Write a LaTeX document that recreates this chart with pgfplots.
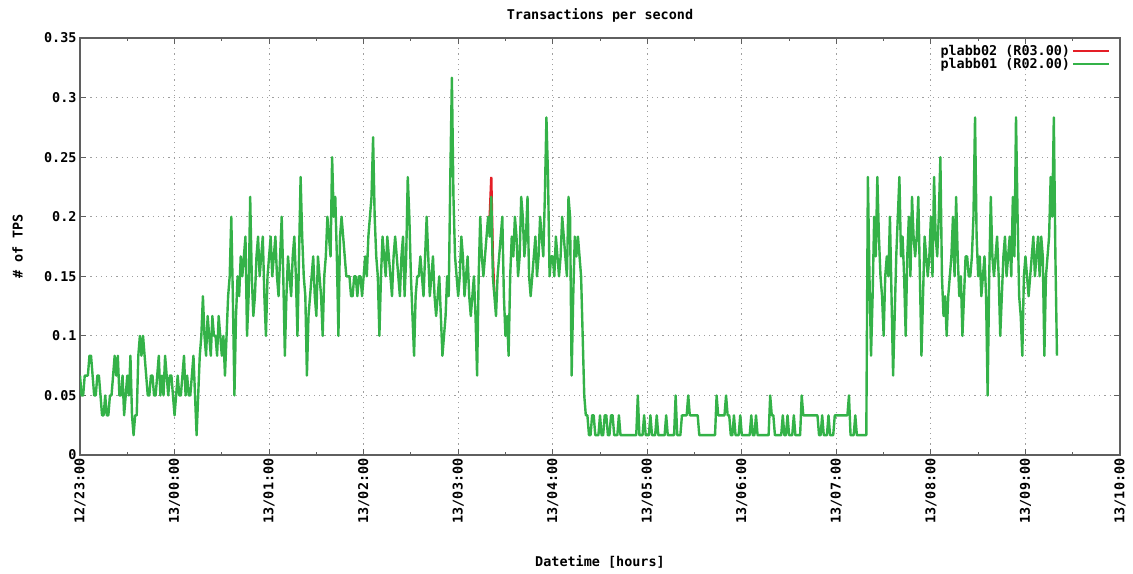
\documentclass[border=0pt]{standalone}
\usepackage{pgfplots}
\pgfplotsset{compat=1.18}
\usepackage{fontspec}
\setmainfont{DejaVu Sans Mono}
\definecolor{gline}{RGB}{52,178,72}
\definecolor{rline}{RGB}{228,30,38}
\definecolor{frame}{RGB}{95,95,95}
\newcommand{\gfont}{\bfseries\fontsize{13.5}{15}\selectfont}
\begin{document}
\begin{tikzpicture}
\begin{axis}[
  scale only axis,
  width=1040bp, height=417bp,
  xmin=0, xmax=660, ymin=0, ymax=21,
  xtick={0,60,...,660},
  xticklabels={12/23:00,13/00:00,13/01:00,13/02:00,13/03:00,13/04:00,13/05:00,13/06:00,13/07:00,13/08:00,13/09:00,13/10:00},
  minor xtick={30,90,...,630},
  ytick={0,3,...,21},
  yticklabels={0,0.05,0.1,0.15,0.2,0.25,0.3,0.35},
  tick align=inside,
  major tick length=6bp, minor tick length=3bp,
  tick style={frame, line width=1bp},
  axis line style={frame, line width=1.3bp},
  grid=major,
  major grid style={gray!75, line width=0.9bp, dash pattern=on 1.2bp off 4bp},
  xticklabel style={rotate=90, anchor=east, font=\gfont},
  yticklabel style={font=\gfont},
  title={Transactions per second},
  title style={font=\gfont, at={(axis description cs:0.5,1.04)}, anchor=center},
  xlabel={Datetime [hours]},
  xlabel style={font=\gfont, at={(axis description cs:0.5,-0.257)}, anchor=center},
  ylabel={\# of TPS},
  ylabel style={font=\gfont, at={(axis description cs:-0.06,0.5)}, anchor=center, rotate=0},
  legend style={at={(axis description cs:0.992,0.99)}, anchor=north east, draw=none, fill=none, font=\gfont, row sep=-3bp, inner sep=1bp},
  legend cell align=right,
  legend plot pos=right,
  legend image code/.code={\draw[#1, line width=2.4bp] (0bp,0bp) -- (36bp,0bp);},
]
\addplot[rline, line width=2.4bp, mark=none] coordinates {
(259,12)(260,12)(261,14)(262,10)(263,8)
};
\addlegendentry{plabb02 (R03.00)}
\addplot[gline, line width=2.4bp, mark=none, line join=round] coordinates {
(0,4)(1,3)(2,3)(3,4)(4,4)(5,4)(6,5)(7,5)(8,4)(9,3)(10,3)(11,4)(12,4)(13,3)(14,2)(15,2)(16,3)(17,2)(18,2)(19,3)(20,3)(21,4)(22,5)(23,4)(24,5)(25,3)(26,3)(27,4)(28,2)(29,3)(30,4)(31,3)(32,5)(33,2)(34,1)(35,2)(36,2)(37,5)(38,6)(39,5)(40,6)(41,5)(42,4)(43,3)(44,3)(45,4)(46,4)(47,3)(48,3)(49,4)(50,5)(51,3)(52,4)(53,3)(54,5)(55,4)(56,3)(57,4)(58,4)(59,3)(60,2)
(61,3)(62,4)(63,3)(64,3)(65,4)(66,5)(67,3)(68,4)(69,3)(70,3)(71,4)(72,5)(73,3)(74,1)(75,3)(76,5)(77,6)(78,8)(79,6)(80,5)(81,7)(82,6)(83,5)(84,7)(85,6)(86,6)(87,5)(88,7)(89,6)(90,5)(91,6)(92,4)(93,6)(94,8)(95,9)(96,12)(97,8)(98,3)(99,7)(100,9)(101,8)(102,10)(103,9)(104,10)(105,11)(106,6)(107,8)(108,13)(109,9)(110,7)(111,8)(112,10)(113,11)(114,9)(115,10)(116,11)(117,8)(118,6)(119,9)(120,10)
(121,11)(122,9)(123,10)(124,11)(125,9)(126,8)(127,10)(128,12)(129,9)(130,5)(131,8)(132,10)(133,9)(134,8)(135,10)(136,11)(137,9)(138,6)(139,10)(140,14)(141,11)(142,9)(143,8)(144,4)(145,7)(146,8)(147,9)(148,10)(149,8)(150,7)(151,10)(152,9)(153,8)(154,6)(155,9)(156,10)(157,12)(158,11)(159,10)(160,15)(161,12)(162,13)(163,10)(164,6)(165,11)(166,12)(167,11)(168,10)(169,9)(170,9)(171,9)(172,8)(173,8)(174,9)(175,9)(176,8)(177,9)(178,9)(179,8)(180,9)
(181,10)(182,9)(183,11)(184,12)(185,13)(186,16)(187,12)(188,10)(189,9)(190,6)(191,9)(192,11)(193,10)(194,9)(195,11)(196,10)(197,9)(198,8)(199,10)(200,11)(201,10)(202,9)(203,8)(204,10)(205,11)(206,8)(207,10)(208,14)(209,12)(210,9)(211,7)(212,5)(213,8)(214,9)(215,9)(216,10)(217,9)(218,8)(219,10)(220,12)(221,10)(222,8)(223,9)(224,10)(225,8)(226,7)(227,8)(228,9)(229,7)(230,5)(231,6)(232,7)(233,9)(234,8)(235,14)(236,19)(237,13)(238,10)(239,9)(240,8)
(241,9)(242,11)(243,10)(244,8)(245,9)(246,10)(247,8)(248,7)(249,8)(250,9)(251,7)(252,4)(253,9)(254,12)(255,10)(256,9)(257,10)(258,11)(259,12)(260,11)(261,13)(262,9)(263,8)(264,7)(265,9)(266,10)(267,11)(268,12)(269,8)(270,6)(271,7)(272,5)(273,9)(274,11)(275,10)(276,12)(277,11)(278,9)(279,10)(280,13)(281,12)(282,10)(283,11)(284,13)(285,9)(286,8)(287,9)(288,10)(289,11)(290,9)(291,10)(292,12)(293,11)(294,10)(295,13)(296,17)(297,14)(298,9)(299,10)(300,10)
(301,9)(302,11)(303,10)(304,9)(305,10)(306,12)(307,11)(308,10)(309,9)(310,13)(311,12)(312,4)(313,8)(314,11)(315,10)(316,11)(317,10)(318,9)(319,6)(320,3)
(321,2)(322,2)(323,1)(324,1)(325,2)(326,2)(327,1)(329,1)(330,2)(331,1)(332,1)(333,2)(334,2)(335,1)(336,1)(337,2)(338,2)(339,1)(341,1)(342,2)(343,1)(353,1)(354,3)(355,1)(357,1)(358,2)(359,1)(361,1)(362,2)(363,1)(365,1)(366,2)(367,1)(371,1)(372,2)(373,1)(377,1)(378,3)(379,1)(381,1)(382,2)(385,2)(386,3)(387,2)(392,2)(393,1)(403,1)(404,3)(405,2)(409,2)(410,3)(411,2)(412,2)(413,1)(414,1)(415,2)(416,1)(418,1)(419,2)(420,1)(425,1)(426,2)(427,1)(428,1)(429,2)(430,1)(437,1)(438,3)(439,2)(440,2)(441,1)(445,1)(446,2)(447,1)(448,1)(449,2)(450,1)(452,1)(453,2)(454,1)(457,1)(458,3)(459,2)(468,2)(469,1)(470,1)(471,2)(472,1)(474,1)(475,2)(476,1)(478,1)(479,2)(487,2)(488,3)(489,1)(491,1)(492,2)(493,1)(499,1)
(500,14)(501,9)(502,5)(503,8)(504,12)(505,10)(506,14)(507,11)(508,9)(509,8)(510,6)(511,9)(512,10)(513,9)(514,12)(515,8)(516,4)(517,7)(518,10)(519,12)(520,14)(521,10)(522,11)(523,9)(524,6)(525,10)(526,12)(527,9)(528,13)(529,11)(530,10)(531,11)(532,13)(533,9)(534,5)(535,8)(536,11)(537,10)(538,9)(539,10)(540,12)(541,9)(542,14)(543,11)(544,10)(545,12)(546,15)(547,9)(548,7)(549,8)(550,6)(551,8)(552,9)(553,10)(554,12)(555,9)(556,13)(557,10)(558,8)(559,9)(560,6)(561,8)(562,10)(563,10)(564,9)(565,9)(566,10)(567,12)(568,17)(569,11)(570,9)(571,10)(572,8)(573,9)(574,10)(575,8)(576,3)(577,9)(578,13)(579,10)(580,9)(581,10)(582,11)(583,9)(584,6)(585,8)(586,10)(587,11)(588,9)(589,10)(590,11)(591,9)(592,13)(593,10)(594,17)(595,12)(596,8)(597,7)(598,5)(599,9)(600,10)(601,9)(602,8)(603,9)(604,10)(605,11)(606,9)(607,10)(608,11)(609,9)(610,11)(611,10)(612,5)(613,9)(614,10)(615,11)(616,14)(617,12)(618,17)(619,10)(620,5)
};
\addlegendentry{plabb01 (R02.00)}
\end{axis}
\path ([shift={(-80bp,-118bp)}]current axis.south west) rectangle ([shift={(13bp,38bp)}]current axis.north east);
\end{tikzpicture}
\end{document}
